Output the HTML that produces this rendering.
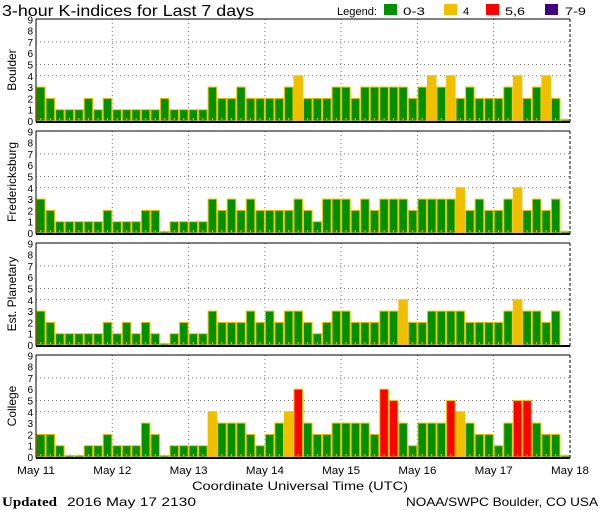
<!DOCTYPE html>
<html><head><meta charset="utf-8"><style>
html,body{margin:0;padding:0;background:#fff;}
svg{display:block;font-family:"Liberation Sans",sans-serif;}
</style></head><body>
<svg id="s" width="600" height="510" viewBox="0 0 600 510" xmlns="http://www.w3.org/2000/svg">
<rect width="600" height="510" fill="#fff"/>
<text x="2" y="16" font-size="16" fill="#000" textLength="252" lengthAdjust="spacingAndGlyphs">3-hour K-indices for Last 7 days</text>
<text x="337" y="15" font-size="11" textLength="40" lengthAdjust="spacingAndGlyphs">Legend:</text>
<rect x="384" y="4" width="13" height="11" fill="#009000"/><text x="403" y="15" font-size="11" textLength="22" lengthAdjust="spacingAndGlyphs">0-3</text>
<rect x="444" y="4" width="13" height="11" fill="#f0c000"/><text x="463" y="15" font-size="11">4</text>
<rect x="486" y="4" width="13" height="11" fill="#ff0000"/><text x="505" y="15" font-size="11" textLength="20" lengthAdjust="spacingAndGlyphs">5,6</text>
<rect x="545" y="4" width="13" height="11" fill="#400080"/><text x="565" y="15" font-size="11" textLength="21" lengthAdjust="spacingAndGlyphs">7-9</text>
<text transform="translate(16,70) rotate(-90)" text-anchor="middle" font-size="12">Boulder</text>
<text transform="translate(16,182) rotate(-90)" text-anchor="middle" font-size="12">Fredericksburg</text>
<text transform="translate(16,294) rotate(-90)" text-anchor="middle" font-size="12">Est. Planetary</text>
<text transform="translate(16,406) rotate(-90)" text-anchor="middle" font-size="12">College</text>
<g font-size="11">
<text x="17" y="474" textLength="38" lengthAdjust="spacingAndGlyphs">May 11</text>
<text x="93.3" y="474" textLength="38" lengthAdjust="spacingAndGlyphs">May 12</text>
<text x="169.6" y="474" textLength="38" lengthAdjust="spacingAndGlyphs">May 13</text>
<text x="245.9" y="474" textLength="38" lengthAdjust="spacingAndGlyphs">May 14</text>
<text x="322.1" y="474" textLength="38" lengthAdjust="spacingAndGlyphs">May 15</text>
<text x="398.4" y="474" textLength="38" lengthAdjust="spacingAndGlyphs">May 16</text>
<text x="474.7" y="474" textLength="38" lengthAdjust="spacingAndGlyphs">May 17</text>
<text x="551" y="474" textLength="38" lengthAdjust="spacingAndGlyphs">May 18</text>
<text x="192" y="490" font-size="12" textLength="216" lengthAdjust="spacingAndGlyphs">Coordinate Universal Time (UTC)</text>
</g>
<text x="2" y="506" font-size="13" font-family="Liberation Serif,serif" font-weight="bold" textLength="55" lengthAdjust="spacingAndGlyphs">Updated</text>
<text x="67" y="506" font-size="12" textLength="129" lengthAdjust="spacingAndGlyphs">2016 May 17 2130</text>
<text x="406" y="506" font-size="12" textLength="192" lengthAdjust="spacingAndGlyphs">NOAA/SWPC Boulder, CO USA</text>
<g id="g"></g>
</svg>
<script>
var D=[
[3,2,1,1,1,2,1,2,1,1,1,1,1,2,1,1,1,1,3,2,2,3,2,2,2,2,3,4,2,2,2,3,3,2,3,3,3,3,3,2,3,4,3,4,2,3,2,2,2,3,4,2,3,4,2,0],
[3,2,1,1,1,1,1,2,1,1,1,2,2,0,1,1,1,1,3,2,3,2,3,2,2,2,2,3,2,1,3,3,3,2,3,2,3,3,3,2,3,3,3,3,4,2,3,2,2,3,4,2,3,2,3,0],
[3,2,1,1,1,1,1,2,1,2,1,2,1,0,1,2,1,1,3,2,2,2,3,2,3,2,3,3,2,1,2,3,3,2,2,2,3,3,4,2,2,3,3,3,3,2,2,2,2,3,4,3,3,2,3,-1],
[2,2,1,0,0,1,1,2,1,1,1,3,2,0,1,1,1,1,4,3,3,3,2,1,2,3,4,6,3,2,2,3,3,3,3,2,6,5,3,1,3,3,3,5,4,3,2,2,1,3,5,5,3,2,2,0]];
var h='',bw=534/56,u=11.3;
for(var p=0;p<4;p++){var t=19+p*112,b=t+102;
 for(var k=0;k<=9;k++)h+='<text x="33" y="'+(b-k*u+4).toFixed(1)+'" font-size="10" text-anchor="end">'+k+'</text>';
 [4,5,7].forEach(function(k){var y=(b-k*u).toFixed(1);h+='<line x1="36" x2="570" y1="'+y+'" y2="'+y+'" stroke="#777" stroke-dasharray="1,3"/>';});
 for(var d=1;d<7;d++){var x=(36+d*534/7).toFixed(1);h+='<line x1="'+x+'" x2="'+x+'" y1="'+t+'" y2="'+b+'" stroke="#777" stroke-dasharray="1,3"/>';}
 D[p].forEach(function(v,i){if(v<0)return;var x=36+i*bw,hh=v==0?1.5:v*u;var c=v<=3?'#009000':v==4?'#f0c000':v<=6?'#ff0000':'#400080';
  h+='<rect x="'+(x+0.5).toFixed(2)+'" y="'+(b-hh).toFixed(1)+'" width="'+(bw-1).toFixed(2)+'" height="'+hh.toFixed(1)+'" fill="'+c+'" stroke="#f0c000" stroke-width="1"/>';
  h+='<rect x="'+(x+bw/2-0.5).toFixed(1)+'" y="'+(b-3)+'" width="1" height="2" fill="#f0c000"/>';});
 h+='<line x1="36" x2="570" y1="'+t+'" y2="'+t+'" stroke="#000"/>';
 h+='<line x1="36" x2="36" y1="'+t+'" y2="'+(b+1)+'" stroke="#000"/>';
 h+='<line x1="570" x2="570" y1="'+t+'" y2="'+(b+1)+'" stroke="#000" stroke-dasharray="3,2"/>';
 h+='<line x1="36" x2="570" y1="'+(b+1)+'" y2="'+(b+1)+'" stroke="#000" stroke-width="2"/>';
}
document.getElementById('g').innerHTML=h;
</script>
</body></html>
